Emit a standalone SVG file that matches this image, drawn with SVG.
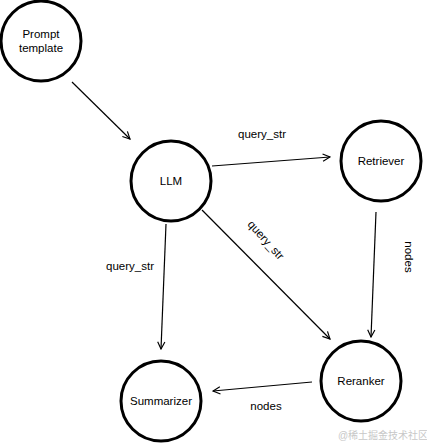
<svg xmlns="http://www.w3.org/2000/svg" width="427" height="443" viewBox="0 0 427 443">
<style>
.node circle{fill:#fff;stroke:#000;stroke-width:3}
text{font-family:"Liberation Sans",Arial,sans-serif;font-size:11.5px;fill:#000;text-anchor:middle;dominant-baseline:central}
.edge{stroke:#000;stroke-width:1.2;fill:none;marker-end:url(#arr)}
.wm{font-size:10px;fill:#c8c8c8;font-family:"Liberation Sans","Noto Sans CJK SC",sans-serif}
</style>
<defs>
<marker id="arr" viewBox="0 0 10 10" refX="9" refY="5" markerWidth="9" markerHeight="9" markerUnits="userSpaceOnUse" orient="auto">
<path d="M1,1 L9,5 L1,9" fill="none" stroke="#000" stroke-width="1.3"/>
</marker>
</defs>
<rect width="427" height="443" fill="#fff"/>
<g id="connectors">
<line class="edge" x1="72" y1="82" x2="130" y2="139"/>
<line class="edge" x1="212" y1="166" x2="330" y2="157"/>
<line class="edge" x1="202" y1="210" x2="330" y2="339"/>
<line class="edge" x1="166" y1="224" x2="161" y2="349"/>
<line class="edge" x1="376" y1="212" x2="371" y2="337"/>
<line class="edge" x1="312" y1="382" x2="213" y2="391"/>
<text x="262" y="134">query_str</text>
<text x="266" y="240" transform="rotate(48 266 240)">query_str</text>
<text x="409" y="257" transform="rotate(90 409 257)">nodes</text>
<text x="130" y="266">query_str</text>
<text x="266" y="406">nodes</text>
</g>
<g id="prompt" class="node"><circle cx="41" cy="41" r="40"/><text x="41" y="34">Prompt</text><text x="41" y="48">template</text></g>
<g id="llm" class="node"><circle cx="171" cy="181" r="40"/><text x="171" y="181">LLM</text></g>
<g id="retriever" class="node"><circle cx="381" cy="161" r="40"/><text x="381" y="161">Retriever</text></g>
<g id="reranker" class="node"><circle cx="361" cy="381" r="40"/><text x="361" y="381">Reranker</text></g>
<g id="summarizer" class="node"><circle cx="161" cy="401" r="40"/><text x="161" y="401">Summarizer</text></g>
<text class="wm" x="383" y="435">@稀土掘金技术社区</text>
</svg>
